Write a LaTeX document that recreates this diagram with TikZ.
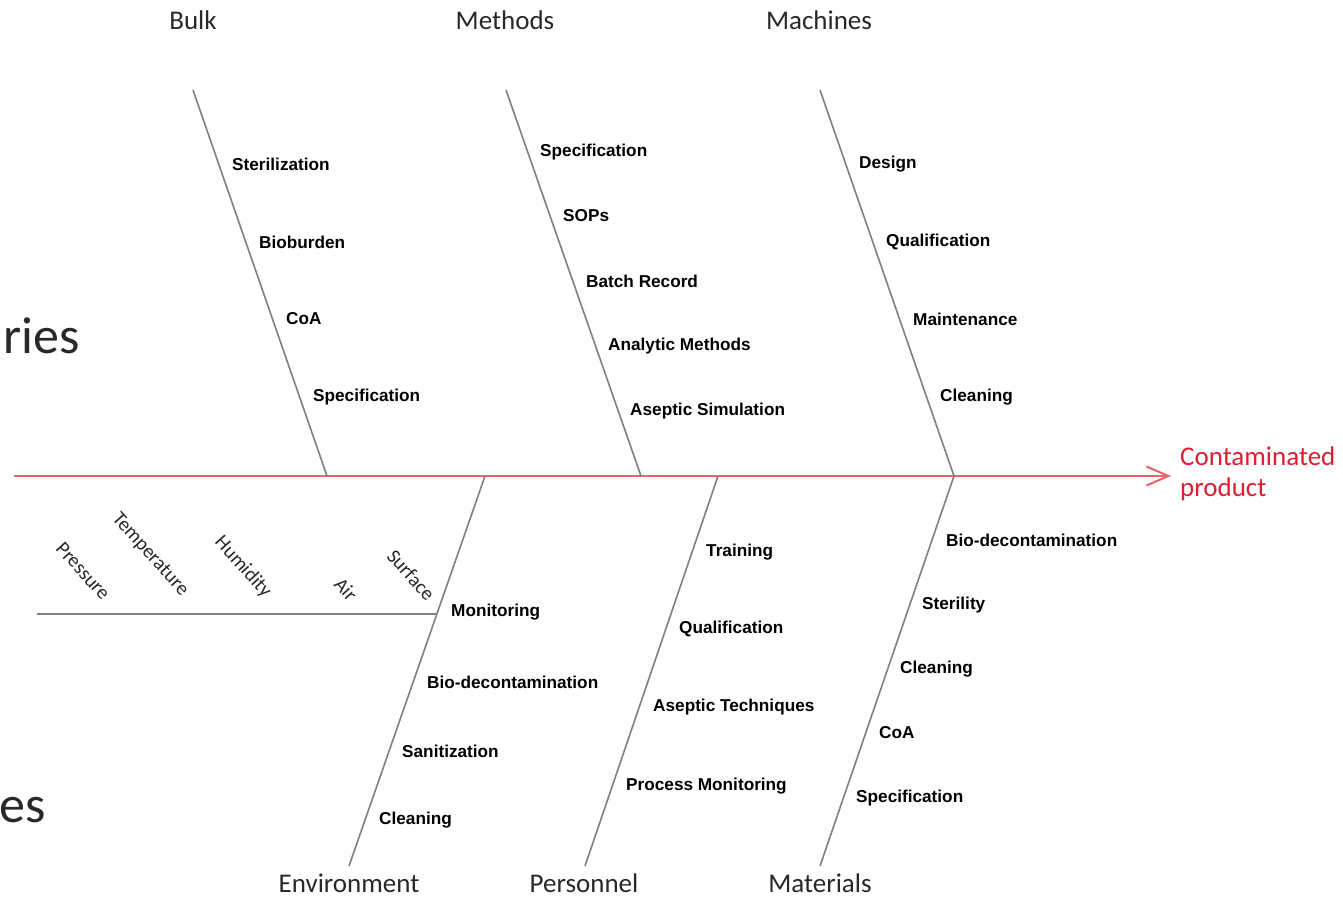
\documentclass[tikz,border=0pt]{standalone}
\usepackage{fontspec}
\setmainfont{Carlito}
\newfontfamily\labelfont{Liberation Sans}
\usetikzlibrary{arrows.meta}
\definecolor{bonegray}{RGB}{128,128,128}
\definecolor{spinered}{RGB}{232,100,104}
\definecolor{effectred}{RGB}{222,30,50}
\definecolor{headtext}{RGB}{40,40,40}
\begin{document}
\begin{tikzpicture}[x=1pt,y=-1pt,
  bone/.style={draw=bonegray,line width=1.6pt},
  spine/.style={draw=spinered,line width=2pt,-{Straight Barb[length=22pt,width=19pt,line width=2pt]}},
  cause/.style={font=\labelfont\bfseries\fontsize{17.2}{19}\selectfont,anchor=west,inner sep=0pt,text=black},
  head/.style={font=\fontsize{27}{30}\selectfont,inner sep=0pt,text=headtext},
  sub/.style={font=\fontsize{20}{22}\selectfont,inner sep=0pt,rotate=-48,text=headtext},
  big/.style={font=\fontsize{52}{56}\selectfont,inner sep=0pt,anchor=base east,text=headtext}]
\useasboundingbox (0,0) rectangle (1343,897);
\fill[white] (0,0) rectangle (1343,897);

% partly hidden category text at the left edge
\node[big] (catA) at (80,353) {ries};
\node[big] (catB) at (46,822) {es};

% spine and effect
\coordinate (tail) at (14,476);
\coordinate (head) at (1171,476);
\draw[spine] (tail) -- (head);
\node[font=\fontsize{27}{31}\selectfont,text=effectred,anchor=west,align=left,inner sep=0pt] (effect) at (1180,474) {Contaminated\\product};

% bone end points
\coordinate (bulkT) at (193,90);   \coordinate (bulkB) at (327,476);
\coordinate (methT) at (506,90);   \coordinate (methB) at (641,476);
\coordinate (machT) at (820,90);   \coordinate (machB) at (954,476);
\coordinate (envT) at (485,476);   \coordinate (envB) at (349,866);
\coordinate (persT) at (718,476);  \coordinate (persB) at (585,866);
\coordinate (matT) at (954,476);   \coordinate (matB) at (820,866);
\coordinate (envL) at (37,614);    \coordinate (envJ) at (437,614);

\draw[bone] (bulkT) -- (bulkB);
\draw[bone] (methT) -- (methB);
\draw[bone] (machT) -- (machB);
\draw[bone] (envT) -- (envB);
\draw[bone] (persT) -- (persB);
\draw[bone] (matT) -- (matB);
\draw[bone] (envL) -- (envJ);

% category headings
\node[head] (hBulk) at (193,20) {Bulk};
\node[head] (hMeth) at (505,20) {Methods};
\node[head] (hMach) at (819,20) {Machines};
\node[head] (hEnv) at (349,883) {Environment};
\node[head] (hPers) at (584,883) {Personnel};
\node[head] (hMat) at (820,883) {Materials};

% Bulk
\node[cause] (b1) at (232,164) {Sterilization};
\node[cause] (b2) at (259,242) {Bioburden};
\node[cause] (b3) at (286,319) {CoA};
\node[cause] (b4) at (313,397) {Specification};

% Methods
\node[cause] (m1) at (540,152) {Specification};
\node[cause] (m2) at (563,216) {SOPs};
\node[cause] (m3) at (586,281) {Batch Record};
\node[cause] (m4) at (608,346) {Analytic Methods};
\node[cause] (m5) at (630,411) {Aseptic Simulation};

% Machines
\node[cause] (k1) at (859,164) {Design};
\node[cause] (k2) at (886,242) {Qualification};
\node[cause] (k3) at (913,319) {Maintenance};
\node[cause] (k4) at (940,397) {Cleaning};

% Environment
\node[cause] (e1) at (451,612) {Monitoring};
\node[cause] (e2) at (427,682) {Bio-decontamination};
\node[cause] (e3) at (402,751) {Sanitization};
\node[cause] (e4) at (379,820) {Cleaning};

% Monitoring sub-causes
\node[sub] (s1) at (83,571) {Pressure};
\node[sub] (s2) at (150,555) {Temperature};
\node[sub] (s3) at (243,567) {Humidity};
\node[sub] (s4) at (346,589) {Air};
\node[sub] (s5) at (411,575) {Surface};

% Personnel
\node[cause] (p1) at (706,552) {Training};
\node[cause] (p2) at (679,629) {Qualification};
\node[cause] (p3) at (653,707) {Aseptic Techniques};
\node[cause] (p4) at (626,786) {Process Monitoring};

% Materials
\node[cause] (t1) at (946,540) {Bio-decontamination};
\node[cause] (t2) at (922,605) {Sterility};
\node[cause] (t3) at (900,669) {Cleaning};
\node[cause] (t4) at (879,733) {CoA};
\node[cause] (t5) at (856,798) {Specification};
\end{tikzpicture}
\end{document}
